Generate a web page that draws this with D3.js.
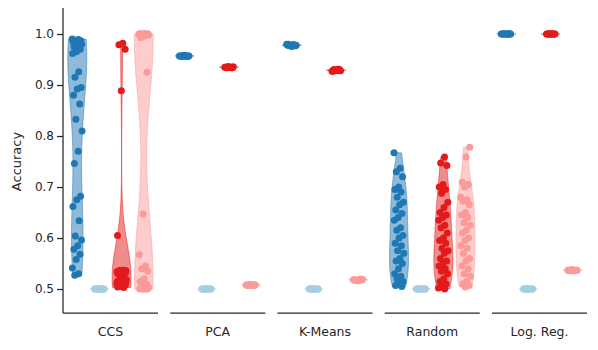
<!DOCTYPE html>
<html>
<head>
<meta charset="utf-8">
<script src="https://cdn.jsdelivr.net/npm/d3@7"></script>
<style>
  body { margin: 0; background: #fff; }
  text { font-family: "DejaVu Sans", sans-serif; fill: #262626; }
</style>
</head>
<body>
<div id="chart"></div>
<script>
// categories and hue order
const methods = ["CCS", "PCA", "K-Means", "Random", "Log. Reg."];
const hues = ["darkBlue", "lightBlue", "red", "pink"];
const hueColors = ["#1f78b4", "#a6cee3", "#e31a1c", "#fb9a99"];
const yTicks = [0.5, 0.6, 0.7, 0.8, 0.9, 1.0];

// CCS
const ccsDarkBlue = [0.990, 0.989, 0.988, 0.987, 0.986, 0.985, 0.984, 0.982, 0.980, 0.978, 0.975, 0.970,
  0.965, 0.962, 0.926, 0.915, 0.895, 0.892, 0.880, 0.863, 0.833, 0.810, 0.770, 0.746, 0.682, 0.675,
  0.662, 0.634, 0.604, 0.596, 0.585, 0.578, 0.568, 0.558, 0.541, 0.530, 0.527];
const ccsLightBlue = [0.5, 0.5, 0.5, 0.5, 0.5, 0.5, 0.5, 0.5, 0.5, 0.5, 0.5, 0.5, 0.5, 0.5, 0.5, 0.5];
const ccsRed = [0.982, 0.979, 0.970, 0.889, 0.605, 0.537, 0.537, 0.536, 0.536, 0.535, 0.535, 0.534,
  0.534, 0.533, 0.533, 0.532, 0.531, 0.530, 0.528, 0.520, 0.518, 0.517, 0.516, 0.516, 0.515, 0.515,
  0.514, 0.514, 0.513, 0.513, 0.512, 0.512, 0.511, 0.511, 0.510, 0.509, 0.508, 0.505, 0.504, 0.503];
const ccsPink = [1.0, 1.0, 1.0, 1.0, 1.0, 1.0, 1.0, 1.0, 1.0, 1.0, 1.0, 1.0, 0.999, 0.998, 0.996,
  0.993, 0.925, 0.647, 0.567, 0.545, 0.540, 0.535, 0.520, 0.515, 0.510, 0.505, 0.503, 0.502,
  0.501, 0.500, 0.500, 0.500, 0.500, 0.500];

// PCA
const pcaDarkBlue = [0.957, 0.957, 0.956, 0.957, 0.958, 0.957, 0.956, 0.957, 0.957, 0.958, 0.957, 0.956];
const pcaLightBlue = [0.5, 0.5, 0.5, 0.5, 0.5, 0.5, 0.5, 0.5, 0.5, 0.5, 0.5, 0.5];
const pcaRed = [0.935, 0.935, 0.934, 0.936, 0.935, 0.935, 0.934, 0.936, 0.935, 0.935, 0.934, 0.936];
const pcaPink = [0.508, 0.508, 0.507, 0.508, 0.509, 0.508, 0.507, 0.508, 0.508, 0.509, 0.508, 0.507];

// K-Means
const kmDarkBlue = [0.980, 0.979, 0.978, 0.977, 0.976, 0.978, 0.979, 0.977, 0.978, 0.976, 0.980, 0.978];
const kmLightBlue = [0.5, 0.5, 0.5, 0.5, 0.5, 0.5, 0.5, 0.5, 0.5, 0.5, 0.5, 0.5];
const kmRed = [0.931, 0.930, 0.929, 0.928, 0.927, 0.929, 0.930, 0.928, 0.929, 0.927, 0.931, 0.929];
const kmPink = [0.519, 0.518, 0.517, 0.518, 0.516, 0.518, 0.519, 0.517, 0.518, 0.516, 0.518, 0.519];

// Random
const rndDarkBlue = [0.767, 0.737, 0.730, 0.720, 0.700, 0.695, 0.690, 0.680, 0.670, 0.665, 0.655,
  0.648, 0.640, 0.635, 0.620, 0.615, 0.605, 0.600, 0.590, 0.585, 0.575, 0.570, 0.560, 0.555,
  0.550, 0.540, 0.530, 0.525, 0.520, 0.515, 0.510, 0.507, 0.505];
const rndLightBlue = [0.5, 0.5, 0.5, 0.5, 0.5, 0.5, 0.5, 0.5, 0.5, 0.5, 0.5, 0.5];
const rndRed = [0.759, 0.747, 0.742, 0.705, 0.700, 0.695, 0.688, 0.670, 0.660, 0.650, 0.645,
  0.640, 0.635, 0.625, 0.620, 0.610, 0.600, 0.595, 0.590, 0.580, 0.575, 0.570, 0.560, 0.555,
  0.550, 0.545, 0.540, 0.535, 0.530, 0.520, 0.515, 0.510, 0.505, 0.502, 0.500];
const rndPink = [0.778, 0.759, 0.710, 0.705, 0.700, 0.680, 0.675, 0.672, 0.665, 0.650, 0.645,
  0.640, 0.630, 0.625, 0.615, 0.610, 0.600, 0.595, 0.585, 0.580, 0.570, 0.560, 0.555, 0.545,
  0.540, 0.530, 0.525, 0.515, 0.510, 0.507, 0.504];

// Log. Reg.
const lrDarkBlue = [1.0, 1.0, 1.0, 1.0, 1.0, 1.0, 1.0, 1.0, 1.0, 1.0, 1.0, 1.0];
const lrLightBlue = [0.5, 0.5, 0.5, 0.5, 0.5, 0.5, 0.5, 0.5, 0.5, 0.5, 0.5, 0.5];
const lrRed = [1.0, 1.0, 1.0, 1.0, 1.0, 1.0, 1.0, 1.0, 1.0, 1.0, 1.0, 1.0];
const lrPink = [0.537, 0.537, 0.536, 0.537, 0.538, 0.537, 0.536, 0.537, 0.537, 0.538, 0.537, 0.536];

const seriesByMethod = {
  "CCS": [ccsDarkBlue, ccsLightBlue, ccsRed, ccsPink],
  "PCA": [pcaDarkBlue, pcaLightBlue, pcaRed, pcaPink],
  "K-Means": [kmDarkBlue, kmLightBlue, kmRed, kmPink],
  "Random": [rndDarkBlue, rndLightBlue, rndRed, rndPink],
  "Log. Reg.": [lrDarkBlue, lrLightBlue, lrRed, lrPink]
};

const width = 598, height = 350;
const margin = { top: 8, right: 11, bottom: 37, left: 63 };
const innerW = width - margin.left - margin.right;
const innerH = height - margin.top - margin.bottom;

const svg = d3.select("#chart").append("svg")
    .attr("width", width)
    .attr("height", height);

const g = svg.append("g")
    .attr("transform", "translate(" + margin.left + "," + margin.top + ")");

// scales
const x = d3.scaleBand()
    .domain(methods)
    .range([0, innerW])
    .paddingInner(0.114);

const y = d3.scaleLinear()
    .domain([0.453, 1.051])
    .range([innerH, 0]);

const violinHalf = 9.5;

// gaussian kde, scott bandwidth, cut at data range
function kde(values, n) {
    let sd = d3.deviation(values);
    let bw = sd * Math.pow(values.length, -1 / 5);
    let lo = d3.min(values), hi = d3.max(values);
    return d3.range(n).map(i => {
        let v = lo + (hi - lo) * i / (n - 1);
        let dens = d3.sum(values, d => Math.exp(-0.5 * Math.pow((v - d) / bw, 2)));
        return [v, dens];
    });
}

// y axis
const yAxis = d3.axisLeft(y)
    .tickValues(yTicks)
    .tickFormat(d3.format(".1f"))
    .tickSize(6)
    .tickPadding(3)
    .tickSizeOuter(0);

const yG = g.append("g").attr("class", "y-axis").call(yAxis);
yG.select(".domain").attr("stroke", "#262626").attr("stroke-width", 1.25)
    .attr("d", "M0," + innerH + "V0");
yG.selectAll(".tick line").attr("stroke", "#262626").attr("stroke-width", 1.25);
yG.selectAll(".tick text").style("font-size", "12px").attr("fill", "#262626");

g.append("text")
    .attr("transform", "translate(" + (-42) + "," + (innerH / 2 + 1) + ") rotate(-90)")
    .attr("text-anchor", "middle")
    .style("font-size", "13px")
    .text("Accuracy");

methods.forEach(method => {
    let x0 = x(method);
    let bw = x.bandwidth();

    let hx = d3.scalePoint()
        .domain(hues)
        .range([x0 + 0.15 * bw, x0 + 0.85 * bw]);

    // bottom spine for each panel
    g.append("line")
        .attr("x1", x0).attr("x2", x0 + bw)
        .attr("y1", innerH).attr("y2", innerH)
        .attr("stroke", "#262626")
        .attr("stroke-width", 1.25);

    g.append("text")
        .attr("x", x0 + bw / 2)
        .attr("y", innerH + 23)
        .attr("text-anchor", "middle")
        .style("font-size", "12.5px")
        .text(method);

    let series = seriesByMethod[method];

    // violins
    series.forEach((vals, i) => {
        let cx = hx(hues[i]);
        let color = hueColors[i];
        if (d3.deviation(vals) === 0 || d3.deviation(vals) === undefined) {
            g.append("line")
                .attr("x1", cx - violinHalf).attr("x2", cx + violinHalf)
                .attr("y1", y(vals[0])).attr("y2", y(vals[0]))
                .attr("stroke", color)
                .attr("stroke-opacity", 0.6)
                .attr("stroke-width", 1.5);
            return;
        }
        let dens = kde(vals, 100);
        let maxD = d3.max(dens, d => d[1]);
        let w = d3.scaleLinear().domain([0, maxD]).range([0, violinHalf]);
        let area = d3.area()
            .x0(d => cx - w(d[1]))
            .x1(d => cx + w(d[1]))
            .y(d => y(d[0]));
        g.append("path")
            .datum(dens)
            .attr("d", area)
            .attr("fill", color)
            .attr("fill-opacity", 0.5)
            .attr("stroke", color)
            .attr("stroke-opacity", 0.5)
            .attr("stroke-width", 1);
    });

    // strip points
    series.forEach((vals, i) => {
        let cx = hx(hues[i]);
        g.append("g").selectAll("circle")
            .data(vals)
            .enter().append("circle")
            .attr("cx", (d, j) => cx + (((j * 0.618034 + i * 0.31) % 1) - 0.5) * 10)
            .attr("cy", d => y(d))
            .attr("r", 3.5)
            .attr("fill", hueColors[i]);
    });
});
</script>
</body>
</html>
